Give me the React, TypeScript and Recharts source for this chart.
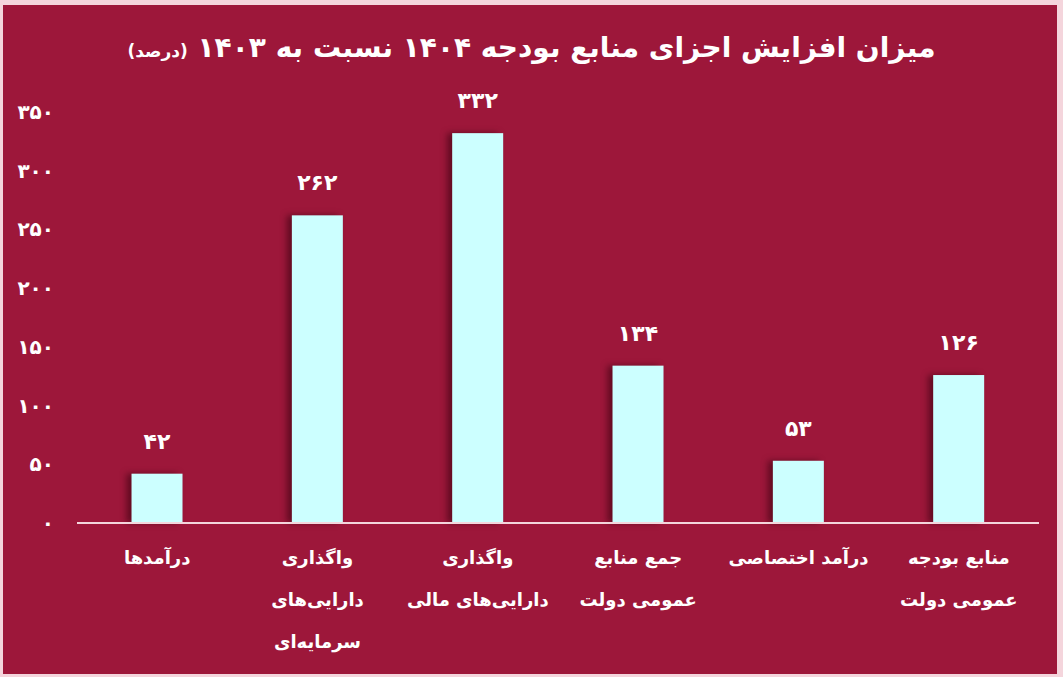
import { Bar, BarChart, LabelList, XAxis, YAxis } from "recharts";

const categories: string[][] = [
  ["درآمدها"],
  ["واگذاری", "دارایی\u200cهای", "سرمایه\u200cای"],
  ["واگذاری", "دارایی\u200cهای مالی"],
  ["جمع منابع", "عمومی دولت"],
  ["درآمد اختصاصی"],
  ["منابع بودجه", "عمومی دولت"],
];
const growthPercent = [42, 262, 332, 134, 53, 126];
const yTicks = [0, 50, 100, 150, 200, 250, 300, 350];

const BG = "#9d173a";
const FRAME = "#f4d5dc";
const BAR = "#ccffff";
const FONT = "'DejaVu Sans', sans-serif";

const data = categories.map((lines, i) => ({
  key: String(i),
  lines,
  value: growthPercent[i],
}));

const faDigits = "۰۱۲۳۴۵۶۷۸۹";
const toFa = (n: number | string) =>
  String(n).replace(/[0-9]/g, (d) => faDigits[Number(d)]);

const YTick = ({ y, payload }: any) => (
  <text
    x={54}
    y={y}
    dy={7}
    textAnchor="end"
    fill="#ffffff"
    fontFamily={FONT}
    fontWeight="bold"
    fontSize={20}
  >
    {toFa(payload.value)}
  </text>
);

const XTick = ({ x, payload }: any) => {
  const lines: string[] = data[Number(payload.value)].lines;
  return (
    <g>
      {lines.map((line, i) => (
        <text
          key={i}
          x={x}
          y={564 + i * 42}
          textAnchor="middle"
          direction="rtl"
          fill="#ffffff"
          fontFamily={FONT}
          fontWeight="bold"
          fontSize={18}
        >
          {line}
        </text>
      ))}
    </g>
  );
};

const ValueLabel = ({ x, y, width, value }: any) => (
  <text
    x={x + width / 2}
    y={y - 25}
    textAnchor="middle"
    fill="#ffffff"
    fontFamily={FONT}
    fontWeight="bold"
    fontSize={22}
  >
    {toFa(value)}
  </text>
);

const ShadowBar = ({ x, y, width, height }: any) => (
  <rect
    x={x}
    y={y}
    width={width}
    height={height}
    fill={BAR}
    style={{ filter: "drop-shadow(-5px 0px 3px rgba(50, 0, 12, 0.55))" }}
  />
);

export default function App() {
  return (
    <div
      style={{
        position: "fixed",
        left: 0,
        top: 0,
        width: 1063,
        height: 677,
        background: FRAME,
      }}
    >
      <div
        style={{
          position: "absolute",
          left: 3,
          top: 5,
          right: 6,
          bottom: 3,
          background: BG,
        }}
      />
      <div
        dir="rtl"
        style={{
          position: "absolute",
          left: 0,
          top: 28,
          width: 1063,
          textAlign: "center",
          color: "#ffffff",
          fontFamily: FONT,
          fontWeight: "bold",
          fontSize: 28,
          lineHeight: "40px",
        }}
      >
        میزان افزایش اجزای منابع بودجه ۱۴۰۴ نسبت به ۱۴۰۳{" "}
        <span style={{ fontSize: 17 }}>(درصد)</span>
      </div>
      <div style={{ position: "absolute", left: 0, top: 0 }}>
        <BarChart
          width={1063}
          height={677}
          data={data}
          margin={{ top: 112, right: 24, bottom: 124, left: 0 }}
          barCategoryGap="34%"
        >
          <YAxis
            width={77}
            domain={[0, 350]}
            ticks={yTicks}
            axisLine={false}
            tickLine={false}
            tick={<YTick />}
            interval={0}
          />
          <XAxis
            dataKey="key"
            height={30}
            axisLine={{ stroke: FRAME, strokeWidth: 2 }}
            tickLine={false}
            tick={<XTick />}
            interval={0}
          />
          <Bar
            dataKey="value"
            fill={BAR}
            shape={<ShadowBar />}
            isAnimationActive={false}
          >
            <LabelList dataKey="value" content={<ValueLabel />} />
          </Bar>
        </BarChart>
      </div>
    </div>
  );
}
